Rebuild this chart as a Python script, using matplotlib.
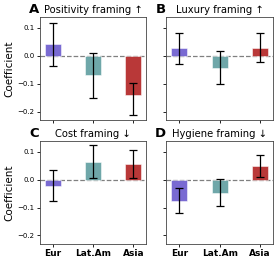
import numpy as np
import matplotlib.pyplot as plt

regions = ['Eur', 'Lat.Am', 'Asia']
colors = ['#6a5acd', '#5f9ea0', '#b22222']
panels = ['A', 'B', 'C', 'D']
titles = ['Positivity framing \u2191', 'Luxury framing \u2191',
          'Cost framing \u2193', 'Hygiene framing \u2193']

# coefficient per region, with lower / upper ends of the error bars
coef = [[0.042, -0.070, -0.139],
        [0.027, -0.043, 0.029],
        [-0.021, 0.065, 0.055],
        [-0.075, -0.048, 0.049]]
err_lo = [[-0.038, -0.151, -0.214],
          [-0.028, -0.101, -0.021],
          [-0.076, 0.007, 0.007],
          [-0.118, -0.095, 0.010]]
err_hi = [[0.117, 0.010, -0.098],
          [0.083, 0.017, 0.081],
          [0.033, 0.123, 0.105],
          [-0.030, 0.002, 0.090]]

fig, axes = plt.subplots(2, 2, figsize=(2.77, 2.64), dpi=100, sharey=True, sharex=True)
fig.subplots_adjust(left=0.144, right=0.985, top=0.936, bottom=0.076, wspace=0.19, hspace=0.2)

x = np.arange(len(regions))
for i, ax in enumerate(axes.flat):
    c = np.array(coef[i])
    lo = np.array(err_lo[i])
    hi = np.array(err_hi[i])
    mid = (lo + hi) / 2
    ax.bar(x, c, width=0.4, color=colors, alpha=0.9, edgecolor='white', linewidth=0.4)
    ax.errorbar(x, mid, yerr=[mid - lo, hi - mid], fmt='none', ecolor='black',
                elinewidth=0.9, capsize=3.2, capthick=0.9)
    ax.axhline(0, color='gray', linestyle='--', linewidth=0.9, zorder=0)
    ax.set_title(titles[i], fontsize=7.2, pad=3)
    ax.text(-0.01, 1.035, panels[i], transform=ax.transAxes, fontsize=9.5,
            fontweight='bold', ha='right', va='baseline')
    ax.tick_params(labelsize=5, length=2.5, width=0.6, pad=1.5)
    for s in ax.spines.values():
        s.set_linewidth(0.6)
        s.set_color('#444444')
    if i % 2 == 0:
        ax.set_ylabel('Coefficient', fontsize=7.5, labelpad=2)

axes[1, 0].set_xticks(x)
for ax in axes[1]:
    ax.set_xticklabels(regions, fontsize=6.5, fontweight='bold')
axes[0, 0].set_yticks([-0.2, -0.1, 0.0, 0.1])

fig.savefig('out.png', dpi=100)
